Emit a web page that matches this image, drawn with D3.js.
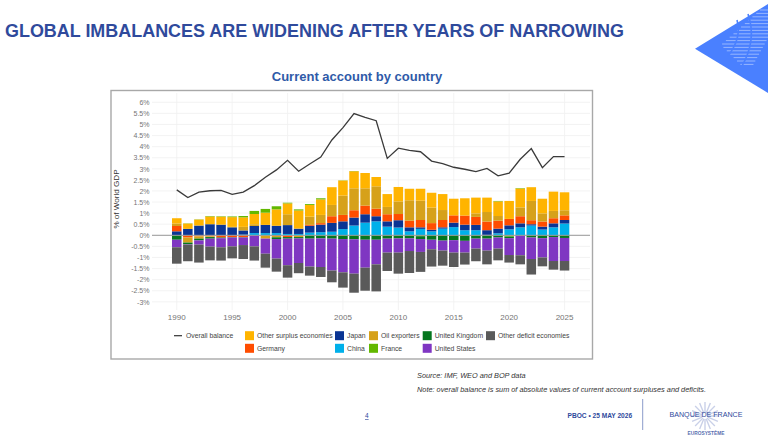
<!DOCTYPE html>
<html>
<head>
<meta charset="utf-8">
<style>
	html, body { margin: 0; padding: 0; background: #fff; overflow: hidden; }
	text { font-family: "Liberation Sans", Arial, sans-serif; }
</style>
</head>
<body>
	<script src="https://d3js.org/d3.v7.min.js"></script>
	<script>
		var years = d3.range(1990, 2026);

		var overall = [2.05,1.7,1.95,2.01,2.03,1.85,1.95,2.24,2.62,2.95,3.38,2.89,3.22,3.53,4.3,4.86,5.49,5.32,5.17,3.47,3.93,3.83,3.77,3.35,3.23,3.07,2.98,2.87,3.02,2.68,2.8,3.43,3.91,3.05,3.55,3.55];
		var china = [0,0,0,0,0,0,.03,.1,.1,.1,.06,.06,.12,.14,.16,.28,.44,.57,.63,.39,.35,.18,.29,.18,.3,.37,.23,.23,.02,.09,.27,.36,.44,.26,.36,.53];
		var japan = [.18,.29,.44,.5,.48,.36,.19,.32,.37,.33,.4,.24,.31,.34,.4,.35,.36,.38,.23,.24,.33,.18,.07,.07,.06,.2,.25,.24,.21,.21,.18,.18,.06,.13,.18,.16];
		var germany = [.24,-.1,-.05,-.05,-.1,-.08,-.08,0,0,-.03,-.08,0,.04,.07,.3,.29,.33,.39,.34,.32,.28,.3,.33,.3,.33,.33,.41,.36,.39,.36,.29,.32,.18,.23,.23,.21];
		var oil = [.11,-.23,-.1,-.03,0,.02,.16,.08,-.15,-.06,.49,-.08,.37,.37,.51,.87,.99,.78,1.01,.33,.57,.92,.87,.7,.45,0,0,.16,.43,.21,-.03,.4,.87,.37,.33,.23];
		var otherSurplus = [.24,.24,.27,.35,.36,.44,.43,.46,.55,.74,.49,.82,.53,.7,.8,.68,.77,.69,.42,.58,.65,.52,.54,.67,.72,.75,.78,.71,.65,.66,.81,.85,.62,.66,.87,.81];
		var france = [0,.01,.01,.02,.02,.03,.06,.14,.17,.14,.03,.05,.04,.05,0,.01,.01,0,0,0,0,0,-.04,0,0,0,0,0,0,.02,-.03,.02,0,0,0,0];
		var uk = [-.2,-.07,-.08,-.07,-.03,-.02,-.02,0,0,-.08,-.07,-.06,-.15,-.14,-.15,-.17,-.18,-.2,-.2,-.15,-.14,-.14,-.13,-.2,-.24,-.22,-.25,-.15,-.15,-.1,-.07,-.02,-.1,-.13,-.08,-.12];
		var us = [-.34,-.02,-.19,-.36,-.41,-.4,-.34,-.5,-.68,-.88,-1.2,-1.11,-1.26,-1.29,-1.44,-1.5,-1.55,-1.26,-1.11,-.63,-.64,-.57,-.58,-.43,-.45,-.56,-.53,-.45,-.54,-.5,-.76,-.88,-.97,-.87,-1.08,-1.04];
		var otherDeficit = [-.74,-.75,-.81,-.62,-.6,-.54,-.63,-.64,-.63,-.59,-.56,-.46,-.41,-.45,-.53,-.69,-.86,-1.04,-1.22,-.83,-.95,-.99,-.9,-.78,-.68,-.65,-.54,-.57,-.62,-.53,-.34,-.41,-.7,-.4,-.39,-.43];

		var seriesNames = ['China','Japan','Germany','Oil exporters','Other surplus economies','France','United Kingdom','United States','Other deficit economies'];
		var seriesValues = [china,japan,germany,oil,otherSurplus,france,uk,us,otherDeficit];
		var seriesColors = ['#00B0EA','#0A3594','#FF4D00','#D6A11A','#FFB400','#62B800','#05761E','#7F36C2','#5A5A5A'];

		var yTicks = d3.range(-6, 13).map(function(d) { return d / 2; });
		var xTicks = [1990,1995,2000,2005,2010,2015,2020,2025];

		// legend reads column by column, first entry is the line
		var legendRows = [
			['Other surplus economies', 'Japan', 'Oil exporters', 'United Kingdom', 'Other deficit economies'],
			['Germany', 'China', 'France', 'United States']
		];
		var legendX = [245, 335, 369, 422.7, 486];

		var rows = years.map(function(y, i) {
			var r = {year: y};
			seriesNames.forEach(function(n, j) { r[n] = seriesValues[j][i]; });
			return r;
		});

		var svg = d3.select('body').append('svg').attr('width', 768).attr('height', 446);

		var navy = '#2F4A9C';

		svg.append('text').attr('x', 5).attr('y', 37)
			.style('font-size', '17.95px').style('font-weight', 'bold').style('fill', navy)
			.text('GLOBAL IMBALANCES ARE WIDENING AFTER YEARS OF NARROWING');

		svg.append('text').attr('x', 357).attr('y', 81).attr('text-anchor', 'middle')
			.style('font-size', '13px').style('font-weight', 'bold').style('fill', '#2F5AA8')
			.text('Current account by country');

		// corner logo
		var logo = svg.append('g');
		logo.append('polygon').attr('points', '695,48.7 768,4 768,93').style('fill', '#4A80FF');
		var stripes = logo.append('g').style('stroke', '#A9C4FF').style('stroke-width', 1).style('opacity', 0.8);
		d3.range(10, 66, 3.4).forEach(function(sy) {
			var x1 = sy <= 45 ? 760 - (sy - 10) * 39 / 35 : 721 + (sy - 45);
			var x2 = sy <= 38 ? 768 : 768 - (sy - 38) * 0.55;
			stripes.append('line').attr('x1', x1).attr('x2', x2).attr('y1', sy).attr('y2', sy);
		});
		logo.append('path').attr('d', 'M737,20 Q742,38 728,56').style('fill', 'none').style('stroke', '#4A80FF').style('stroke-width', 1.6);
		logo.append('path').attr('d', 'M748,14 Q757,40 742,66').style('fill', 'none').style('stroke', '#4A80FF').style('stroke-width', 1.6);

		// chart frame
		svg.append('rect').attr('x', 111).attr('y', 90.5).attr('width', 481.5).attr('height', 268.5)
			.style('fill', '#fff').style('stroke', '#A8A8A8').style('stroke-width', 1.4);

		var x = d3.scaleBand().domain(years).range([170.44, 570.86]).padding(0.14);
		var y = d3.scaleLinear().domain([-3, 6]).range([301.8, 102.3]);

		var grid = svg.append('g');
		grid.selectAll('.h').data(yTicks).enter().append('line')
			.attr('x1', 152).attr('x2', 590)
			.attr('y1', function(d) { return y(d); }).attr('y2', function(d) { return y(d); })
			.style('stroke', '#F0F0F0').style('stroke-width', 0.8);
		grid.selectAll('.v').data(xTicks).enter().append('line')
			.attr('y1', 93).attr('y2', 310)
			.attr('x1', function(d) { return x(d) + x.bandwidth() / 2; })
			.attr('x2', function(d) { return x(d) + x.bandwidth() / 2; })
			.style('stroke', '#F0F0F0').style('stroke-width', 0.8);

		var stack = d3.stack().keys(seriesNames).offset(d3.stackOffsetDiverging);
		var layers = svg.append('g').selectAll('g').data(stack(rows)).enter().append('g')
			.style('fill', function(d, i) { return seriesColors[i]; });
		layers.selectAll('rect').data(function(d) { return d; }).enter().append('rect')
			.attr('x', function(d) { return x(d.data.year); })
			.attr('width', x.bandwidth())
			.attr('y', function(d) { return y(Math.max(d[0], d[1])); })
			.attr('height', function(d) { return Math.abs(y(d[0]) - y(d[1])); });

		svg.append('line').attr('x1', 152).attr('x2', 590).attr('y1', y(0)).attr('y2', y(0))
			.style('stroke', '#9A9A9A').style('stroke-width', 1);

		var line = d3.line()
			.x(function(d, i) { return x(years[i]) + x.bandwidth() / 2; })
			.y(function(d) { return y(d); });
		svg.append('path').datum(overall).attr('d', line)
			.style('fill', 'none').style('stroke', '#3A3A3A').style('stroke-width', 1.3);

		var yAxis = d3.axisLeft(y).tickValues(yTicks).tickSize(0).tickPadding(0)
			.tickFormat(function(d) { return d + '%'; });
		var gy = svg.append('g').attr('transform', 'translate(149.5,0)').call(yAxis);
		var xAxis = d3.axisBottom(x).tickValues(xTicks).tickSize(0).tickPadding(0);
		var gx = svg.append('g').attr('transform', 'translate(0,314)').call(xAxis);
		[gy, gx].forEach(function(g) {
			g.select('.domain').remove();
			g.selectAll('text').style('font-family', '"Liberation Sans", Arial, sans-serif').style('fill', '#757575');
		});
		gy.selectAll('text').style('font-size', '7px');
		gx.selectAll('text').style('font-size', '8px');

		svg.append('text').attr('transform', 'translate(119,199) rotate(-90)').attr('text-anchor', 'middle')
			.style('font-size', '8.1px').style('fill', '#333').text('% of World GDP');

		// legend
		var legendY = [335.7, 348.3];
		svg.append('line').attr('x1', 174).attr('x2', 182).attr('y1', legendY[0]).attr('y2', legendY[0])
			.style('stroke', '#333').style('stroke-width', 1.2);
		svg.append('text').attr('x', 186).attr('y', legendY[0] + 2.5)
			.style('font-size', '6.8px').style('fill', '#444').text('Overall balance');
		legendRows.forEach(function(names, r) {
			names.forEach(function(name, c) {
				svg.append('rect').attr('x', legendX[c]).attr('y', legendY[r] - 4.5).attr('width', 9).attr('height', 9)
					.style('fill', seriesColors[seriesNames.indexOf(name)]);
				svg.append('text').attr('x', legendX[c] + 12).attr('y', legendY[r] + 2.5)
					.style('font-size', '6.8px').style('fill', '#444').text(name);
			});
		});

		// footer
		svg.append('text').attr('x', 417).attr('y', 377.5)
			.style('font-size', '7.35px').style('font-style', 'italic').style('fill', '#333').text('Source: IMF, WEO and BOP data');
		svg.append('text').attr('x', 417).attr('y', 391.5)
			.style('font-size', '7.35px').style('font-style', 'italic').style('fill', '#333')
			.text('Note: overall balance is sum of absolute values of current account surpluses and deficits.');
		svg.append('text').attr('x', 365).attr('y', 418)
			.style('font-size', '6.5px').style('fill', navy).style('text-decoration', 'underline').text('4');
		svg.append('text').attr('x', 567.5).attr('y', 418)
			.style('font-size', '6.6px').style('font-weight', 'bold').style('fill', navy).text('PBOC • 25 MAY 2026');
		svg.append('line').attr('x1', 642.7).attr('x2', 642.7).attr('y1', 399).attr('y2', 430)
			.style('stroke', '#8C9CCB').style('stroke-width', 1);

		// bank logo: pale star behind the name
		var star = svg.append('g').style('stroke', '#C9D0E8').style('stroke-width', 1.4);
		d3.range(0, 16).forEach(function(i) {
			var a = i / 16 * 2 * Math.PI;
			star.append('line').attr('x1', 705 + 3 * Math.cos(a)).attr('y1', 416 + 3 * Math.sin(a))
				.attr('x2', 705 + 14 * Math.cos(a)).attr('y2', 416 + 14 * Math.sin(a));
		});
		svg.append('text').attr('x', 706).attr('y', 417).attr('text-anchor', 'middle')
			.style('font-size', '7.1px').style('fill', navy).text('BANQUE DE FRANCE');
		svg.append('text').attr('x', 706).attr('y', 435).attr('text-anchor', 'middle')
			.style('font-size', '4.8px').style('font-weight', 'bold').style('fill', '#5A6FB0').text('EUROSYSTÈME');
	</script>
</body>
</html>
